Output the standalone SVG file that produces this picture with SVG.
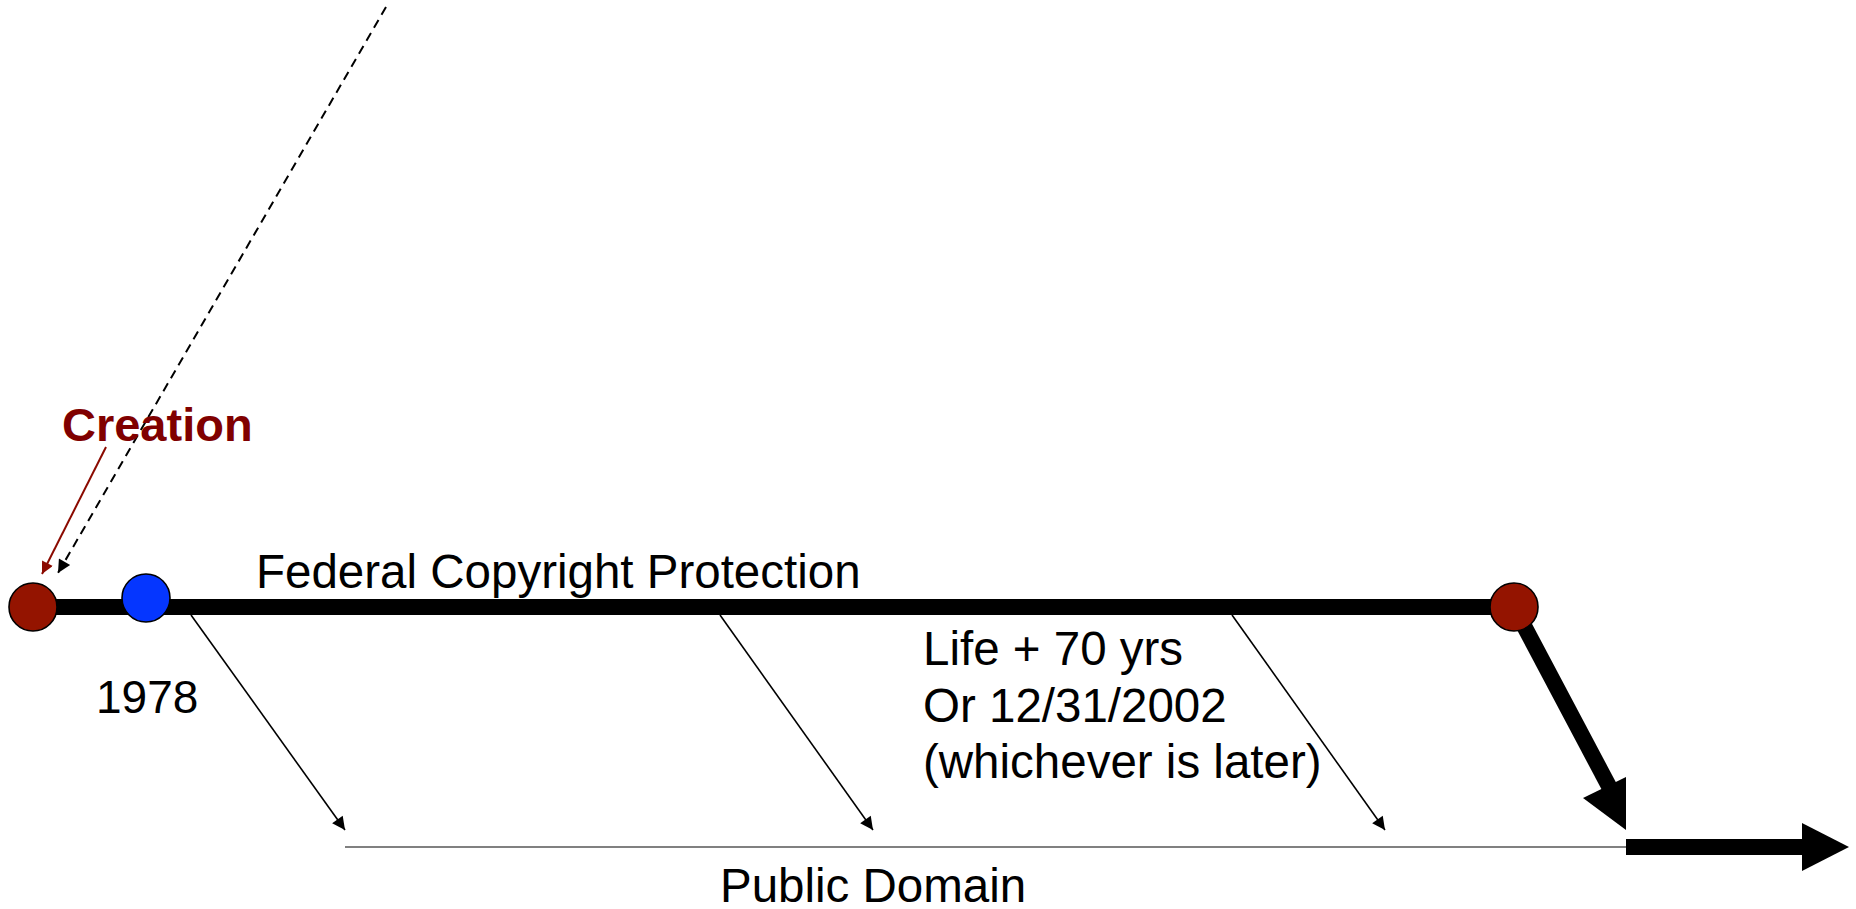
<svg xmlns="http://www.w3.org/2000/svg" width="1856" height="909" viewBox="0 0 1856 909">
<style>
.t{font-family:"Liberation Sans",Arial,sans-serif;font-size:47.5px;fill:#000}
.c{font-family:"Liberation Sans",Arial,sans-serif;font-size:47px;font-weight:bold;fill:#800000}
.thin{stroke:#000;stroke-width:1.6;fill:none}
.bar{stroke:#000;stroke-width:16;fill:none}
.dot{stroke:#000;stroke-width:1.6}
</style>
<defs>
<marker id="ah" viewBox="0 0 10 10" refX="10" refY="5" markerWidth="17" markerHeight="13" markerUnits="userSpaceOnUse" orient="auto"><path d="M0,0 L10,5 L0,10 z" fill="#000"/></marker>
<marker id="ahr" viewBox="0 0 10 10" refX="10" refY="5" markerWidth="18" markerHeight="12" markerUnits="userSpaceOnUse" orient="auto"><path d="M0,0 L10,5 L0,10 z" fill="#8b0a00"/></marker>
</defs>
<g id="connectors">
<line class="bar" x1="33" y1="607" x2="1514" y2="607"/>
<line x1="386" y1="7" x2="58" y2="573" stroke="#000" stroke-width="2" stroke-dasharray="9,6" marker-end="url(#ah)"/>
<line x1="106" y1="447" x2="42" y2="574" stroke="#8b0a00" stroke-width="2" marker-end="url(#ahr)"/>
<line class="thin" x1="191" y1="615" x2="345" y2="830" marker-end="url(#ah)"/>
<line class="thin" x1="720" y1="615" x2="873" y2="830" marker-end="url(#ah)"/>
<line class="thin" x1="1232" y1="615" x2="1385" y2="830" marker-end="url(#ah)"/>
<line x1="345" y1="847" x2="1626" y2="847" stroke="#808080" stroke-width="2"/>
<line class="bar" x1="1514" y1="607" x2="1612" y2="792"/>
<polygon points="1583,798 1626,777 1626,830" fill="#000"/>
<rect x="1626" y="839" width="177" height="16" fill="#000"/>
<polygon points="1802,823 1849,847 1802,871" fill="#000"/>
</g>
<g id="node-creation"><circle class="dot" cx="33" cy="607" r="24" fill="#941400"/><text class="c" x="62" y="441">Creation</text></g>
<g id="node-1978"><circle class="dot" cx="146" cy="598" r="24" fill="#0536ff"/><text class="t" x="96" y="713" style="font-size:46px">1978</text></g>
<g id="node-end"><circle class="dot" cx="1514" cy="607" r="24" fill="#941400"/></g>
<g id="label-federal"><text class="t" x="256" y="588">Federal Copyright Protection</text></g>
<g id="label-term"><text class="t" x="923" y="665">Life + 70 yrs</text><text class="t" x="923" y="722">Or 12/31/2002</text><text class="t" x="923" y="778">(whichever is later)</text></g>
<g id="label-public"><text class="t" x="720" y="902">Public Domain</text></g>
</svg>
